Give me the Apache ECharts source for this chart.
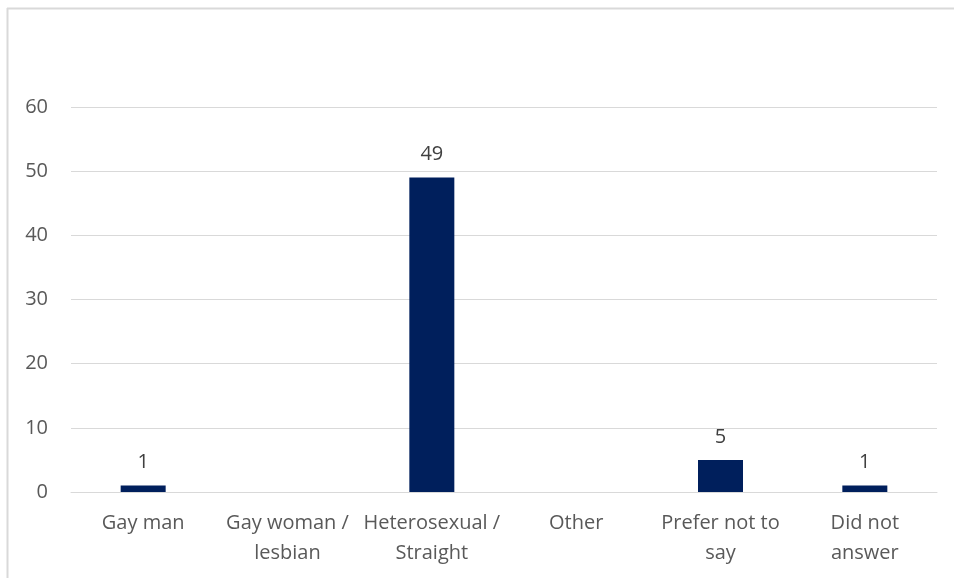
<!DOCTYPE html>
<html><head><meta charset="utf-8">
<script src="https://cdn.jsdelivr.net/npm/echarts@6/dist/echarts.min.js"></script>
<style>html,body{margin:0;padding:0;background:#fff}#c{width:954px;height:578px}</style>
</head><body><div id="c"></div>
<script>
const categories = ['Gay man', 'Gay woman /\nlesbian', 'Heterosexual /\nStraight', 'Other', 'Prefer not to\nsay', 'Did not\nanswer'];
const values = [1, null, 49, null, 5, 1];
const yTicks = [0, 10, 20, 30, 40, 50, 60];

const chart = echarts.init(document.getElementById('c'), null, {renderer: 'canvas'});
const font = '"Open Sans", "Liberation Sans", sans-serif';
chart.setOption({
  animation: false,
  backgroundColor: '#fff',
  graphic: [
    {type: 'line', shape: {x1: 7.5, y1: 8, x2: 7.5, y2: 578}, style: {stroke: '#d9d9d9', lineWidth: 2}},
    {type: 'line', shape: {x1: 7, y1: 8.5, x2: 954, y2: 8.5}, style: {stroke: '#d9d9d9', lineWidth: 2}}
  ],
  grid: {left: 71, right: 17, top: 107, bottom: 86},
  xAxis: {
    type: 'category', data: categories,
    axisLine: {show: true, lineStyle: {color: '#d9d9d9', width: 1}},
    axisTick: {show: false},
    axisLabel: {color: '#595959', fontSize: 20, fontFamily: font, lineHeight: 30, margin: 16, interval: 0}
  },
  yAxis: {
    type: 'value', min: yTicks[0], max: yTicks[yTicks.length - 1], interval: 10,
    axisLine: {show: false}, axisTick: {show: false},
    splitLine: {lineStyle: {color: '#d9d9d9', width: 1}},
    axisLabel: {color: '#595959', fontSize: 20, fontFamily: font, margin: 23}
  },
  series: [{
    type: 'bar', data: values, barWidth: 45,
    itemStyle: {color: '#001f5c'},
    label: {show: true, position: 'top', distance: 13, color: '#404040', fontSize: 20, fontFamily: font}
  }]
});
</script></body></html>
